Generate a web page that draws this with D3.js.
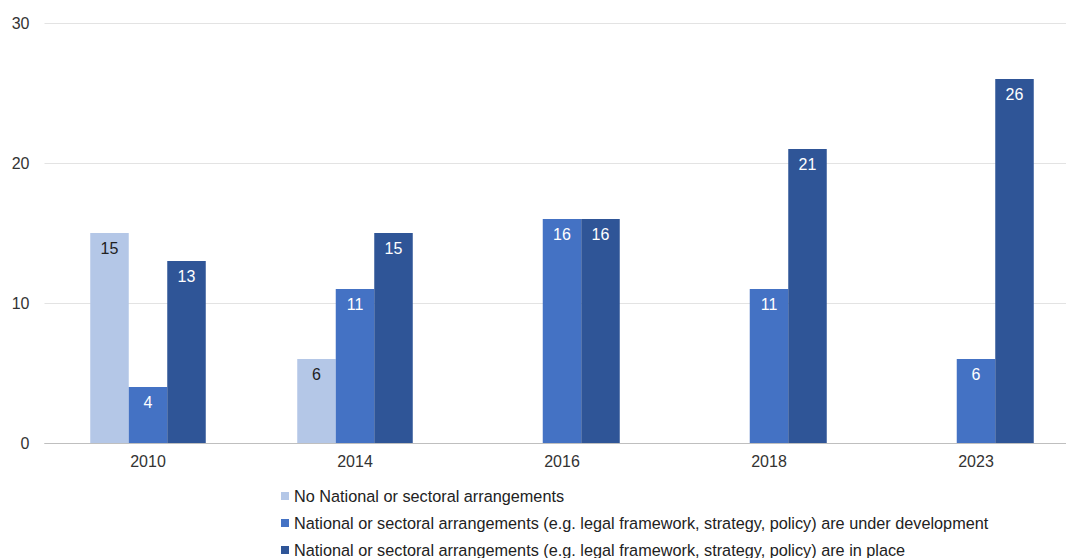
<!DOCTYPE html>
<html>
<head>
<meta charset="utf-8">
<script src="https://cdn.jsdelivr.net/npm/d3@7"></script>
<style>
  html, body { margin: 0; padding: 0; background: #fff; }
  svg { display: block; font-family: "Liberation Sans", Arial, sans-serif; }
</style>
</head>
<body>
<svg id="chart" width="1066" height="558"></svg>
<script>
// Survey years on the x axis
const years = ["2010", "2014", "2016", "2018", "2023"];

// Series names (legend order)
const seriesNames = [
  "No National or sectoral arrangements",
  "National or sectoral arrangements (e.g. legal framework, strategy, policy) are under development",
  "National or sectoral arrangements (e.g. legal framework, strategy, policy) are in place"
];

// Counts per year for each series (null = no bar)
const noArrangements   = [15, 6, null, null, null];
const underDevelopment = [4, 11, 16, 11, 6];
const inPlace          = [13, 15, 16, 21, 26];

const yTicks = [0, 10, 20, 30];

const colors = ["#b4c7e7", "#4472c4", "#2f5597"];
const labelColors = ["#222222", "#ffffff", "#ffffff"];

const seriesValues = [noArrangements, underDevelopment, inPlace];

const FONT = 16;

const svg = d3.select("#chart");

const plotLeft = 44.5, plotRight = 1079.5;
const y = d3.scaleLinear().domain([0, 30]).range([443, 23]);

const x0 = d3.scaleBand()
  .domain(years)
  .range([plotLeft, plotRight])
  .paddingInner(0.442)
  .paddingOuter(0.221);

const x1 = d3.scaleBand()
  .domain(d3.range(seriesNames.length))
  .range([0, x0.bandwidth()]);

// Horizontal gridlines and y tick labels
const yAxis = d3.axisLeft(y)
  .tickValues(yTicks)
  .tickSize(-(plotRight - plotLeft))
  .tickPadding(15)
  .tickFormat(d3.format("d"));

const gy = svg.append("g")
  .attr("transform", `translate(${plotLeft},0)`)
  .call(yAxis);
gy.select(".domain").remove();
gy.selectAll(".tick line")
  .attr("stroke", (d) => d === 0 ? "#bfbfbf" : "#e3e3e3")
  .attr("stroke-width", 1);
gy.selectAll(".tick text")
  .attr("fill", "#333")
  .attr("font-size", FONT);

// Bars
const rows = [];
years.forEach((yr, i) => {
  seriesValues.forEach((vals, s) => {
    if (vals[i] != null) rows.push({ year: yr, s, v: vals[i] });
  });
});

svg.append("g").selectAll("rect")
  .data(rows)
  .join("rect")
  .attr("x", (d) => x0(d.year) + x1(d.s))
  .attr("y", (d) => y(d.v))
  .attr("width", x1.bandwidth())
  .attr("height", (d) => y(0) - y(d.v))
  .attr("fill", (d) => colors[d.s]);

// Value labels inside the top of each bar
svg.append("g").selectAll("text")
  .data(rows)
  .join("text")
  .attr("x", (d) => x0(d.year) + x1(d.s) + x1.bandwidth() / 2)
  .attr("y", (d) => y(d.v) + 20.5)
  .attr("text-anchor", "middle")
  .attr("font-size", FONT)
  .attr("fill", (d) => labelColors[d.s])
  .text((d) => d.v);

// Baseline
svg.append("line")
  .attr("x1", plotLeft).attr("x2", plotRight)
  .attr("y1", y(0) + 0.5).attr("y2", y(0) + 0.5)
  .attr("stroke", "#bfbfbf");

// X axis labels
const gx = svg.append("g")
  .attr("transform", `translate(0,${y(0)})`)
  .call(d3.axisBottom(x0).tickSize(0).tickPadding(13));
gx.select(".domain").remove();
gx.selectAll(".tick text")
  .attr("fill", "#333")
  .attr("font-size", FONT);

// Legend
const legend = svg.append("g").attr("transform", "translate(281,496)");
const items = legend.selectAll("g")
  .data(seriesNames)
  .join("g")
  .attr("transform", (d, i) => `translate(0,${i * 27})`);
items.append("rect")
  .attr("x", 0).attr("y", -4)
  .attr("width", 8).attr("height", 8)
  .attr("fill", (d, i) => colors[i]);
items.append("text")
  .attr("x", 13)
  .attr("y", 0)
  .attr("dy", "0.35em")
  .attr("font-size", 16.25)
  .attr("fill", "#222")
  .text((d) => d);
</script>
</body>
</html>
